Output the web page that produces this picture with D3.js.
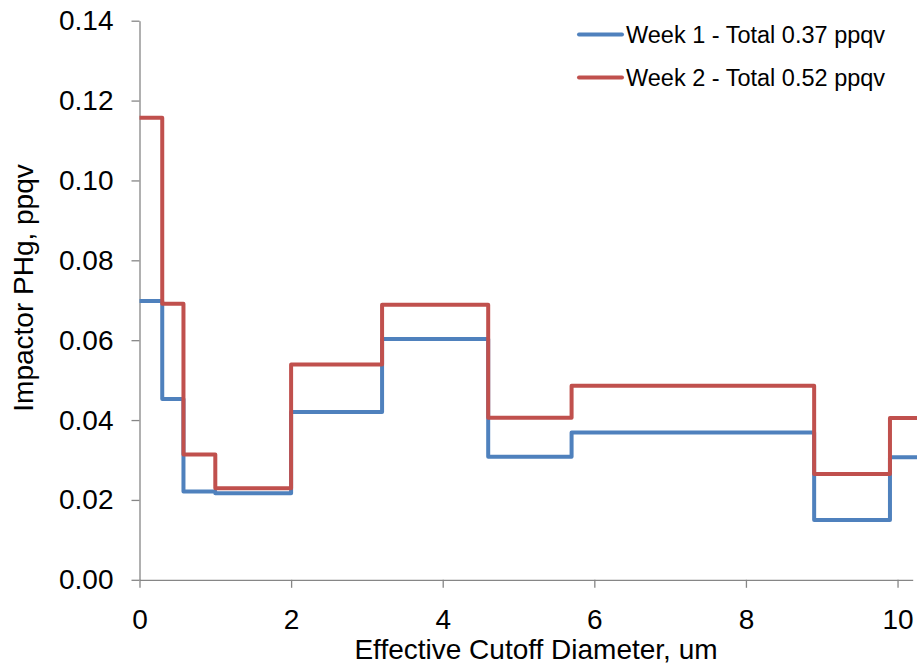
<!DOCTYPE html>
<html>
<head>
<meta charset="utf-8">
<script src="https://cdn.jsdelivr.net/npm/d3@7"></script>
<style>
  body { margin: 0; background: #fff; }
  svg { display: block; font-family: "Liberation Sans", Arial, sans-serif; }
</style>
</head>
<body>
<div id="chart"></div>
<script>
// step edges (um) and stage values (ppqv)
const edges = [0, 0.3, 0.58, 1.0, 2.0, 3.2, 4.6, 5.7, 8.9, 9.9, 10.3];
const week1 = [0.0698, 0.0453, 0.0221, 0.0217, 0.0420, 0.0603, 0.0308, 0.0369, 0.0150, 0.0307];
const week2 = [0.1157, 0.0691, 0.0314, 0.0229, 0.0539, 0.0689, 0.0406, 0.0486, 0.0265, 0.0405];
const seriesNames = ['Week 1 - Total 0.37 ppqv', 'Week 2 - Total 0.52 ppqv'];
const seriesColors = ['#4F81BD', '#C0504D'];
const xTicks = [0, 2, 4, 6, 8, 10];
const yTicks = [0, 0.02, 0.04, 0.06, 0.08, 0.10, 0.12, 0.14];

const W = 917, H = 670;
const x = d3.scaleLinear().domain([0, 10.2]).range([139.5, 912.7]);
const y = d3.scaleLinear().domain([0, 0.14]).range([579.8, 20.7]);

const svg = d3.select('#chart').append('svg')
  .attr('width', W).attr('height', H);

// axes
const yAxis = svg.append('g')
  .attr('transform', `translate(${x(0)},0)`)
  .call(d3.axisLeft(y).tickValues(yTicks).tickFormat(d3.format('.2f'))
    .tickSize(8).tickSizeOuter(0).tickPadding(18));

const xAxis = svg.append('g')
  .attr('transform', `translate(0,${y(0)})`)
  .call(d3.axisBottom(x).tickValues(xTicks).tickFormat(d3.format('d'))
    .tickSize(8).tickSizeOuter(0).tickPadding(21));

[xAxis, yAxis].forEach(a => {
  a.select('.domain').attr('stroke', '#868686').attr('stroke-width', 1.3);
  a.selectAll('.tick line').attr('stroke', '#868686').attr('stroke-width', 1.3);
  a.selectAll('.tick text')
    .attr('fill', '#000')
    .style('font-size', '28px')
    .style('font-family', '"Liberation Sans", Arial, sans-serif');
});

// step lines
const line = d3.line()
  .x(d => x(d[0]))
  .y(d => y(d[1]))
  .curve(d3.curveStepAfter);

[week1, week2].forEach((vals, s) => {
  const pts = edges.map((e, i) => [e, vals[Math.min(i, vals.length - 1)]]);
  svg.append('path')
    .datum(pts)
    .attr('d', line)
    .attr('fill', 'none')
    .attr('stroke', seriesColors[s])
    .attr('stroke-width', 4)
    .attr('stroke-linejoin', 'round');
});

// axis titles
svg.append('text')
  .attr('x', 536)
  .attr('y', 659)
  .attr('text-anchor', 'middle')
  .style('font-size', '28px')
  .text('Effective Cutoff Diameter, um');

svg.append('text')
  .attr('transform', 'translate(33,288) rotate(-90)')
  .attr('text-anchor', 'middle')
  .style('font-size', '28px')
  .text('Impactor PHg, ppqv');

// legend
const legend = svg.append('g');
seriesNames.forEach((name, i) => {
  const ly = 34.5 + i * 43;
  legend.append('line')
    .attr('x1', 579).attr('x2', 622)
    .attr('y1', ly).attr('y2', ly)
    .attr('stroke', seriesColors[i])
    .attr('stroke-width', 4)
    .attr('stroke-linecap', 'round');
  legend.append('text')
    .attr('x', 626)
    .attr('y', ly + 8.5)
    .style('font-size', '23.5px')
    .text(name);
});
</script>
</body>
</html>
